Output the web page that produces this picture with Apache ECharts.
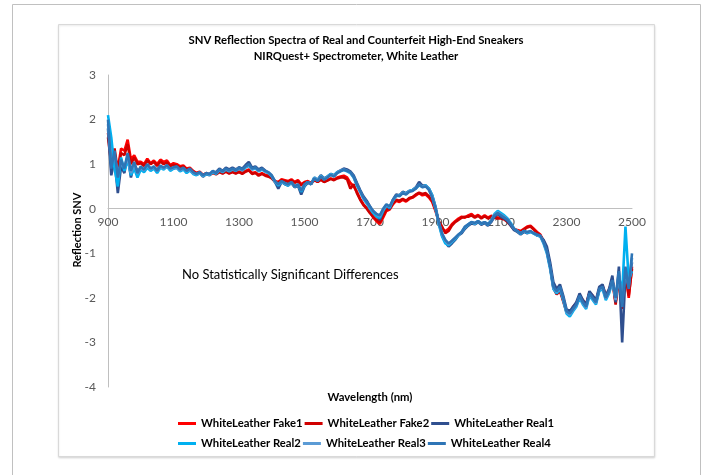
<!DOCTYPE html>
<html>
<head>
<meta charset="utf-8">
<script src="https://cdn.jsdelivr.net/npm/echarts@6/dist/echarts.min.js"></script>
<style>
html,body{margin:0;padding:0;background:#fff;}
#c{width:704px;height:475px;}
</style>
</head>
<body>
<div id="c"></div>
<script>
var wavelengths = [
900,910,920,930,940,950,960,970,980,990,
1000,1010,1020,1030,1040,1050,1060,1070,1080,1090,
1100,1110,1120,1130,1140,1150,1160,1170,1180,1190,
1200,1210,1220,1230,1240,1250,1260,1270,1280,1290,
1300,1310,1320,1330,1340,1350,1360,1370,1380,1390,
1400,1410,1420,1430,1440,1450,1460,1470,1480,1490,
1500,1510,1520,1530,1540,1550,1560,1570,1580,1590,
1600,1610,1620,1630,1640,1650,1660,1670,1680,1690,
1700,1710,1720,1730,1740,1750,1760,1770,1780,1790,
1800,1810,1820,1830,1840,1850,1860,1870,1880,1890,
1900,1910,1920,1930,1940,1950,1960,1970,1980,1990,
2000,2010,2020,2030,2040,2050,2060,2070,2080,2090,
2100,2110,2120,2130,2140,2150,2160,2170,2180,2190,
2200,2210,2220,2230,2240,2250,2260,2270,2280,2290,
2300,2310,2320,2330,2340,2350,2360,2370,2380,2390,
2400,2410,2420,2430,2440,2450,2460,2470,2480,2490,
2500];

var fake1 = [
1.7,1.1,1.2,0.9,1.35,1.3,1.55,1.1,1.2,1.05,
1.05,1.0,1.12,1.02,1.08,1.0,1.1,1.05,1.08,0.98,
1.02,1.0,0.95,0.97,0.9,0.92,0.85,0.8,0.83,0.76,
0.8,0.77,0.82,0.78,0.84,0.8,0.84,0.8,0.83,0.8,
0.84,0.8,0.85,0.88,0.8,0.82,0.76,0.8,0.76,0.74,
0.7,0.62,0.6,0.66,0.64,0.62,0.66,0.6,0.64,0.55,
0.6,0.62,0.58,0.66,0.6,0.66,0.6,0.64,0.68,0.65,
0.7,0.72,0.74,0.7,0.58,0.5,0.38,0.22,0.1,0.02,
-0.08,-0.2,-0.28,-0.34,-0.2,-0.05,-0.02,0.1,0.18,0.15,
0.2,0.16,0.22,0.25,0.3,0.35,0.3,0.32,0.25,0.15,
-0.05,-0.3,-0.45,-0.5,-0.45,-0.35,-0.28,-0.22,-0.18,-0.2,
-0.15,-0.12,-0.18,-0.14,-0.2,-0.15,-0.2,-0.16,-0.18,-0.2,
-0.2,-0.22,-0.28,-0.36,-0.45,-0.48,-0.5,-0.45,-0.4,-0.38,
-0.45,-0.52,-0.58,-0.72,-0.92,-1.28,-1.75,-1.9,-1.82,-2.05,
-2.3,-2.35,-2.2,-2.12,-1.95,-2.05,-2.15,-1.88,-1.95,-2.08,
-1.8,-1.72,-1.95,-1.82,-1.58,-2.1,-1.5,-2.2,-1.4,-2.0,
-1.3];

var fake2 = [
1.6,1.0,1.35,0.85,1.25,1.2,1.45,1.0,1.15,1.0,
1.02,0.96,1.08,1.0,1.05,0.96,1.06,1.0,1.04,0.96,
0.98,0.97,0.92,0.95,0.88,0.9,0.83,0.79,0.82,0.75,
0.79,0.76,0.8,0.77,0.82,0.79,0.83,0.79,0.82,0.79,
0.82,0.78,0.83,0.86,0.78,0.8,0.74,0.78,0.74,0.72,
0.68,0.6,0.58,0.64,0.62,0.6,0.64,0.58,0.62,0.52,
0.58,0.6,0.56,0.64,0.6,0.65,0.6,0.63,0.67,0.64,
0.68,0.7,0.7,0.66,0.45,0.55,0.35,0.2,0.08,0.0,
-0.1,-0.18,-0.25,-0.3,-0.15,-0.02,0.0,0.12,0.2,0.18,
0.22,0.18,0.24,0.26,0.32,0.36,0.33,0.35,0.28,0.18,
-0.02,-0.28,-0.4,-0.55,-0.5,-0.38,-0.3,-0.25,-0.2,-0.18,
-0.18,-0.15,-0.2,-0.16,-0.22,-0.17,-0.22,-0.18,-0.2,-0.22,
-0.22,-0.24,-0.3,-0.38,-0.47,-0.5,-0.52,-0.47,-0.42,-0.4,
-0.47,-0.54,-0.6,-0.74,-0.94,-1.3,-1.78,-1.92,-1.85,-2.08,
-2.32,-2.36,-2.22,-2.14,-1.97,-2.08,-2.18,-1.9,-1.98,-2.1,
-1.82,-1.75,-1.98,-1.85,-1.6,-2.15,-1.55,-2.25,-1.45,-1.95,
-1.35];

var real1 = [
1.8,0.75,1.1,0.35,0.95,0.8,1.2,0.7,1.0,0.85,
0.9,0.85,0.95,0.88,0.92,0.88,0.95,0.9,0.95,0.88,
0.9,0.92,0.85,0.9,0.83,0.88,0.8,0.76,0.8,0.72,
0.78,0.75,0.83,0.82,0.9,0.85,0.92,0.88,0.92,0.88,
0.93,0.9,0.98,1.05,0.92,0.95,0.88,0.92,0.86,0.8,
0.72,0.6,0.45,0.6,0.55,0.52,0.58,0.48,0.52,0.32,
0.5,0.58,0.55,0.7,0.65,0.75,0.68,0.72,0.78,0.75,
0.82,0.86,0.9,0.88,0.84,0.75,0.58,0.42,0.28,0.18,
0.05,-0.08,-0.15,-0.25,-0.05,0.08,0.0,0.2,0.32,0.3,
0.38,0.35,0.4,0.42,0.48,0.6,0.52,0.52,0.45,0.3,
0.05,-0.3,-0.6,-0.75,-0.85,-0.78,-0.7,-0.6,-0.55,-0.45,
-0.38,-0.33,-0.35,-0.3,-0.36,-0.32,-0.38,-0.3,-0.18,-0.12,
-0.18,-0.22,-0.28,-0.38,-0.48,-0.52,-0.58,-0.52,-0.55,-0.52,
-0.55,-0.6,-0.62,-0.7,-0.85,-1.2,-1.65,-1.8,-1.7,-1.95,
-2.25,-2.3,-2.2,-2.1,-1.9,-2.05,-2.15,-1.85,-1.95,-2.05,
-1.75,-1.7,-1.95,-1.8,-1.5,-2.1,-1.3,-3.0,-1.5,-1.7,
-1.2];

var real2 = [
2.1,1.6,0.9,0.5,1.15,0.85,1.1,0.75,0.9,0.7,
0.88,0.82,0.92,0.85,0.9,0.8,0.92,0.88,0.95,0.85,
0.9,0.92,0.84,0.88,0.8,0.86,0.78,0.75,0.8,0.73,
0.78,0.76,0.82,0.78,0.86,0.82,0.88,0.84,0.88,0.85,
0.9,0.86,0.92,0.96,0.88,0.9,0.84,0.88,0.83,0.8,
0.73,0.6,0.52,0.6,0.56,0.52,0.58,0.5,0.53,0.38,
0.52,0.6,0.55,0.7,0.64,0.74,0.66,0.72,0.78,0.74,
0.82,0.85,0.87,0.84,0.8,0.7,0.52,0.38,0.22,0.12,
0.0,-0.1,-0.18,-0.2,-0.05,0.08,0.02,0.18,0.28,0.3,
0.36,0.34,0.4,0.42,0.46,0.52,0.5,0.52,0.45,0.3,
0.02,-0.35,-0.62,-0.78,-0.82,-0.75,-0.68,-0.6,-0.52,-0.42,
-0.36,-0.3,-0.34,-0.28,-0.34,-0.3,-0.36,-0.26,-0.12,-0.05,
-0.1,-0.15,-0.22,-0.32,-0.45,-0.5,-0.56,-0.5,-0.54,-0.52,
-0.56,-0.6,-0.62,-0.78,-1.0,-1.35,-1.8,-1.9,-1.8,-2.05,
-2.35,-2.42,-2.3,-2.2,-2.0,-2.15,-2.25,-1.95,-2.05,-2.15,
-1.85,-1.8,-2.05,-1.9,-1.65,-2.0,-1.5,-1.9,-0.4,-1.6,
-1.4];

var real3 = [
1.9,1.0,1.2,0.8,1.0,0.95,1.15,0.8,1.0,0.78,
0.92,0.86,0.98,0.88,0.93,0.84,0.95,0.9,0.96,0.88,
0.92,0.93,0.86,0.9,0.84,0.88,0.8,0.77,0.81,0.74,
0.79,0.77,0.84,0.8,0.87,0.83,0.89,0.85,0.89,0.86,
0.91,0.87,0.94,0.98,0.89,0.92,0.85,0.89,0.84,0.81,
0.74,0.61,0.54,0.61,0.57,0.54,0.59,0.5,0.54,0.42,
0.54,0.6,0.55,0.69,0.63,0.73,0.66,0.71,0.77,0.73,
0.81,0.85,0.88,0.85,0.81,0.71,0.54,0.39,0.24,0.14,
0.03,-0.06,-0.13,-0.17,-0.02,0.09,0.04,0.19,0.29,0.29,
0.36,0.33,0.39,0.41,0.46,0.54,0.49,0.51,0.43,0.27,
0.0,-0.32,-0.57,-0.72,-0.8,-0.73,-0.66,-0.59,-0.52,-0.41,
-0.35,-0.3,-0.33,-0.28,-0.33,-0.3,-0.35,-0.27,-0.14,-0.08,
-0.13,-0.18,-0.24,-0.34,-0.45,-0.5,-0.55,-0.5,-0.53,-0.51,
-0.55,-0.59,-0.61,-0.76,-0.97,-1.32,-1.77,-1.87,-1.77,-2.02,
-2.32,-2.38,-2.27,-2.17,-1.97,-2.12,-2.22,-1.92,-2.02,-2.12,
-1.82,-1.77,-2.02,-1.87,-1.62,-2.05,-1.45,-2.1,-1.4,-1.75,
-1.1];

var real4 = [
2.0,0.9,1.3,0.7,1.1,0.9,1.25,0.85,1.05,0.8,
0.95,0.88,1.0,0.9,0.95,0.85,0.97,0.92,0.98,0.9,
0.93,0.95,0.88,0.92,0.85,0.9,0.82,0.78,0.82,0.75,
0.8,0.78,0.85,0.8,0.88,0.84,0.9,0.86,0.9,0.86,
0.92,0.88,0.95,1.0,0.9,0.93,0.86,0.9,0.85,0.82,
0.75,0.62,0.55,0.62,0.58,0.55,0.6,0.5,0.55,0.4,
0.55,0.6,0.55,0.68,0.62,0.72,0.65,0.7,0.76,0.72,
0.8,0.84,0.88,0.85,0.82,0.72,0.55,0.4,0.25,0.15,
0.05,-0.05,-0.12,-0.15,0.0,0.1,0.05,0.2,0.3,0.28,
0.35,0.32,0.38,0.4,0.45,0.55,0.48,0.5,0.42,0.25,
0.0,-0.3,-0.55,-0.7,-0.78,-0.72,-0.65,-0.58,-0.52,-0.4,
-0.35,-0.3,-0.32,-0.28,-0.33,-0.3,-0.35,-0.28,-0.15,-0.1,
-0.15,-0.2,-0.25,-0.35,-0.45,-0.5,-0.55,-0.5,-0.52,-0.5,
-0.55,-0.58,-0.6,-0.75,-0.95,-1.3,-1.75,-1.85,-1.75,-2.0,
-2.3,-2.35,-2.25,-2.15,-1.95,-2.1,-2.2,-1.9,-2.0,-2.1,
-1.8,-1.75,-2.0,-1.85,-1.6,-2.0,-1.4,-2.2,-1.3,-1.8,
-1.0];

var seriesNames = ['WhiteLeather Fake1','WhiteLeather Fake2','WhiteLeather Real1','WhiteLeather Real2','WhiteLeather Real3','WhiteLeather Real4'];
var seriesValues = [fake1, fake2, real1, real2, real3, real4];
var seriesColors = ['#ff0000','#d00000','#2f4f8f','#00b0f0','#5b9bd5','#2e75b6'];
var xTicks = [900,1100,1300,1500,1700,1900,2100,2300,2500];
var yTicks = [-4,-3,-2,-1,0,1,2,3];

var FONT = 'Lato, "Open Sans", sans-serif';

var GRID_TOP = 75, GRID_BOTTOM = 88, CHART_H = 475;
var Y_MIN = -4, Y_MAX = 3;
var plotH = CHART_H - GRID_TOP - GRID_BOTTOM;
// distance from grid bottom edge to the y=0 line, used to place the x axis at zero
var zeroOffset = -plotH * (0 - Y_MIN) / (Y_MAX - Y_MIN);

var chart = echarts.init(document.getElementById('c'), null, {renderer:'canvas'});

var series = seriesNames.map(function(name, k){
  return {
    name: name,
    type: 'line',
    data: wavelengths.map(function(w, i){ return [w, seriesValues[k][i]]; }),
    showSymbol: false,
    symbol: 'none',
    lineStyle: {width: 2.6, color: seriesColors[k]},
    itemStyle: {color: seriesColors[k]},
    emphasis: {disabled: true},
    animation: false
  };
});

function legendRow(names, top){
  return {
    data: names,
    top: top,
    left: 173,
    orient: 'horizontal',
    icon: 'rect',
    itemWidth: 18,
    itemHeight: 3,
    itemGap: 2,
    textStyle: {fontFamily: FONT, fontWeight: 'bold', fontSize: 11.3, color: '#000', width: 98, overflow: 'none'},
    selectedMode: false
  };
}

chart.setOption({
  animation: false,
  backgroundColor: '#ffffff',
  grid: {left: 108, right: 72, top: GRID_TOP, bottom: GRID_BOTTOM, containLabel: false},
  xAxis: {
    type: 'value',
    min: 900, max: 2500, interval: 200,
    position: 'bottom',
    offset: zeroOffset,
    axisLine: {show: true, onZero: false, lineStyle: {color: '#bfbfbf', width: 1}},
    axisTick: {show: false},
    splitLine: {show: false},
    axisLabel: {color: '#595959', fontFamily: FONT, fontSize: 12, margin: 7,
      formatter: function(v){ return xTicks.indexOf(v) >= 0 ? String(v) : ''; }}
  },
  yAxis: {
    type: 'value',
    min: Y_MIN, max: Y_MAX, interval: 1,
    axisLine: {show: true, lineStyle: {color: '#bfbfbf', width: 1}},
    axisTick: {show: false},
    splitLine: {show: false},
    axisLabel: {color: '#595959', fontFamily: FONT, fontSize: 12, margin: 12,
      formatter: function(v){ return yTicks.indexOf(v) >= 0 ? String(v) : ''; }}
  },
  legend: [
    legendRow(seriesNames.slice(0,3), 413),
    legendRow(seriesNames.slice(3,6), 433)
  ],
  graphic: [
    {type: 'rect', z: -20, silent: true, shape: {x: 12.5, y: 4.5, width: 688, height: 480},
     style: {fill: '#ffffff', stroke: '#c0c0c0', lineWidth: 1}},
    {type: 'rect', z: -10, silent: true, shape: {x: 58.5, y: 24.5, width: 596, height: 432},
     style: {fill: '#ffffff', stroke: '#d9d9d9', lineWidth: 1, shadowBlur: 2, shadowColor: 'rgba(0,0,0,0.12)', shadowOffsetY: 1}},
    {type: 'text', silent: true, x: 356, y: 40,
     style: {text: 'SNV Reflection Spectra of Real and Counterfeit High-End Sneakers', fill: '#000', font: 'bold 11.3px ' + FONT, textAlign: 'center', textVerticalAlign: 'middle'}},
    {type: 'text', silent: true, x: 356, y: 56,
     style: {text: 'NIRQuest+ Spectrometer, White Leather', fill: '#000', font: 'bold 11.3px ' + FONT, textAlign: 'center', textVerticalAlign: 'middle'}},
    {type: 'text', silent: true, x: 77, y: 230, rotation: Math.PI/2,
     style: {text: 'Reflection SNV', fill: '#000', font: 'bold 11px ' + FONT, textAlign: 'center', textVerticalAlign: 'middle'}},
    {type: 'text', silent: true, x: 370, y: 397,
     style: {text: 'Wavelength (nm)', fill: '#000', font: 'bold 11.3px ' + FONT, textAlign: 'center', textVerticalAlign: 'middle'}},
    {type: 'text', silent: true, x: 182, y: 275,
     style: {text: 'No Statistically Significant Differences', fill: '#000', font: '13px ' + FONT, textAlign: 'left', textVerticalAlign: 'middle'}}
  ],
  series: series
});
</script>
</body>
</html>
